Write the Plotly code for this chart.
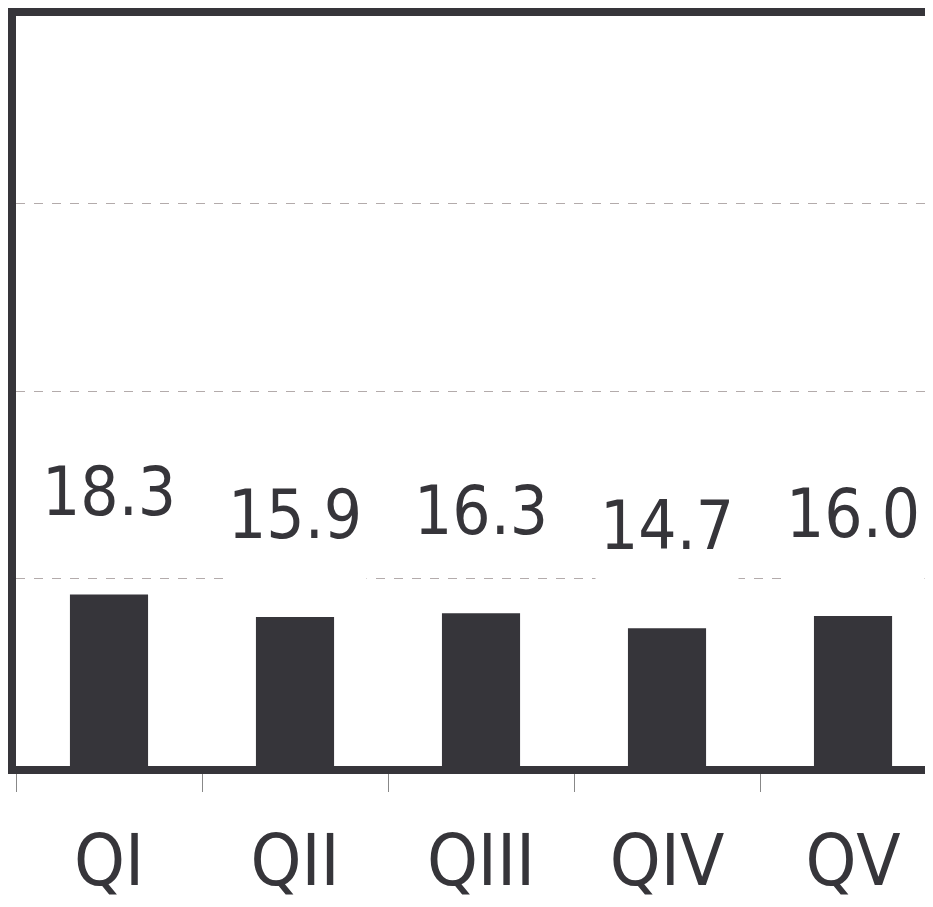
import plotly.graph_objects as go

categories = ["QI", "QII", "QIII", "QIV", "QV"]
values = [18.3, 15.9, 16.3, 14.7, 16.0]
value_labels = ["18.3", "15.9", "16.3", "14.7", "16.0"]

dark = "#36353a"
font_narrow = "Liberation Sans Narrow, Arial Narrow, DejaVu Sans Condensed, sans-serif"

fig = go.Figure()
fig.add_trace(go.Bar(x=categories, y=values, marker=dict(color=dark, line=dict(width=0)),
                     hoverinfo="skip"))

# value labels with white box that hides the grid behind them
for cat, val, lab in zip(categories, values, value_labels):
    fig.add_annotation(x=cat, y=val, text=lab, showarrow=False,
                       xanchor="center", yanchor="bottom", yshift=36,
                       height=100, valign="top", borderpad=4,
                       bgcolor="white",
                       font=dict(family=font_narrow, size=67, color=dark))

fig.update_layout(
    width=917, height=899,
    margin=dict(l=8, r=0, t=8, b=141, autoexpand=False),
    plot_bgcolor="white", paper_bgcolor="white",
    showlegend=False,
    bargap=0.58,
    font=dict(family=font_narrow, color=dark),
)
fig.update_xaxes(
    range=[-0.5, 4.387],
    automargin=False,
    showline=True, linecolor=dark, linewidth=8, mirror=True,
    ticks="outside", tickson="boundaries", ticklen=18, tickwidth=1, tickcolor="#888888",
    tickfont=dict(family=font_narrow, size=72, color=dark),
    ticklabelstandoff=25,
    showgrid=False,
)
fig.update_yaxes(
    range=[0, 80], dtick=20,
    automargin=False,
    showline=True, linecolor=dark, linewidth=8,
    showticklabels=False, ticks="",
    showgrid=True, gridcolor="#b3abab", gridwidth=1, griddash="dash",
    zeroline=False,
)

fig.write_html("out.html")
